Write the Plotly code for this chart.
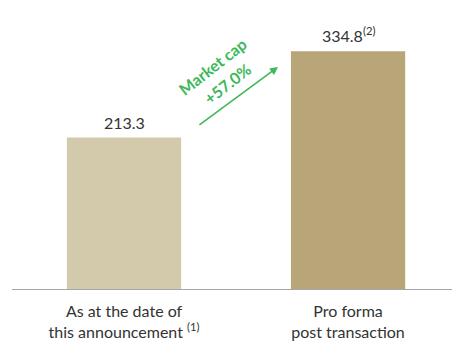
import plotly.graph_objects as go

categories = ["As at the date of<br>this announcement <sup>(1)</sup>", "Pro forma<br>post transaction"]
values = [213.3, 334.8]
value_notes = ["", "(2)"]
colors = ["#D3C9AB", "#B8A679"]
growth_label = "+57.0%"
growth_title = "Market cap"

xs = list(range(len(values)))
fig = go.Figure()
fig.add_trace(go.Bar(x=xs, y=values, marker=dict(color=colors, line=dict(width=0)),
                     width=0.51, hoverinfo="skip"))

font_family = "Lato"
for x, v, n in zip(xs, values, value_notes):
    txt = f"{v:.1f}" + (f"<sup>{n}</sup>" if n else "")
    fig.add_annotation(x=x, y=v, text=txt, showarrow=False, xref="x", yref="y",
                       yanchor="bottom", yshift=4,
                       font=dict(family=font_family, size=16, color="#333333"))

green = "#3DB85A"
fig.add_annotation(x=0.6875, y=312.7, ax=0.330, ay=229.6, axref="x", ayref="y",
                   xref="x", yref="y", text="", showarrow=True,
                   arrowhead=2, arrowsize=1, arrowwidth=1.6, arrowcolor=green)
fig.add_annotation(x=0.393, y=314, text=f"<b>{growth_title}</b>", showarrow=False,
                   textangle=-38, font=dict(family=font_family, size=16, color=green))
fig.add_annotation(x=0.460, y=290, text=f"<b>{growth_label}</b>", showarrow=False,
                   textangle=-38, font=dict(family=font_family, size=16, color=green))

fig.update_layout(
    width=452, height=343, margin=dict(l=12, r=0, t=0, b=54),
    paper_bgcolor="white", plot_bgcolor="white", showlegend=False,
    xaxis=dict(range=[-0.5, 1.464], tickvals=xs, ticktext=categories,
               showline=True, linecolor="#A6A6A6", linewidth=1.3, ticks="",
               showgrid=False, zeroline=False, ticklabelstandoff=8,
               tickfont=dict(family=font_family, size=16, color="#333333")),
    yaxis=dict(range=[0, 407], visible=False, showgrid=False, zeroline=False),
)
fig.write_html("out.html")
